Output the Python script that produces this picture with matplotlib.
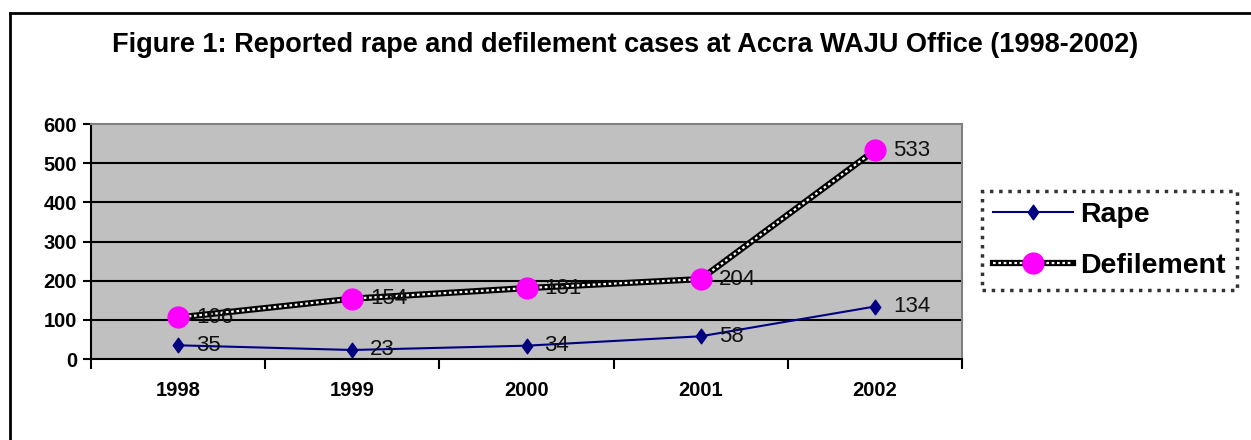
import matplotlib
matplotlib.use("Agg")
import matplotlib.pyplot as plt
from matplotlib.lines import Line2D
from matplotlib.legend_handler import HandlerTuple
from matplotlib.path import Path

plt.rcParams['font.family'] = ['Liberation Sans', 'DejaVu Sans']

years = ["1998", "1999", "2000", "2001", "2002"]
rape = [35, 23, 34, 58, 134]
defilement = [106, 154, 181, 204, 533]
title = "Figure 1: Reported rape and defilement cases at Accra WAJU Office (1998-2002)"

diamond = Path([(0, 1), (0.72, 0), (0, -1), (-0.72, 0), (0, 1)],
               [Path.MOVETO, Path.LINETO, Path.LINETO, Path.LINETO, Path.CLOSEPOLY])

fig = plt.figure(figsize=(12.51, 4.4), dpi=100)
ax = fig.add_axes([91/1251, 1-359/440, (962-91)/1251, (359-124)/440])
ax.set_facecolor('#C0C0C0')
x = list(range(len(years)))

# gridlines
for v in range(100, 600, 100):
    ax.axhline(v, color='black', lw=1.5, zorder=1)

# Rape series
ax.plot(x, rape, color='#000080', lw=1.5, marker=diamond, markersize=10.5,
        markerfacecolor='#000080', markeredgecolor='#000080', zorder=3)
# Defilement series: black with white dashes
ax.plot(x, defilement, color='black', lw=4.5, zorder=3, solid_capstyle='butt')
ax.plot(x, defilement, color='white', lw=1.6, dashes=(1.2, 1.2), zorder=4)
ax.plot(x, defilement, ls='none', marker='o', markersize=15,
        markerfacecolor='#FF00FF', markeredgecolor='#FF00FF', zorder=5)

for xi, v in zip(x, rape):
    ax.annotate(str(v), (xi, v), xytext=(13, 0), textcoords='offset points',
                va='center', ha='left', fontsize=16, color='#111111', zorder=6)
for xi, v in zip(x, defilement):
    ax.annotate(str(v), (xi, v), xytext=(13, 0), textcoords='offset points',
                va='center', ha='left', fontsize=16, color='#111111', zorder=6)

ax.set_xlim(-0.5, len(years) - 0.5)
ax.set_ylim(0, 600)
ax.set_yticks(range(0, 700, 100))
ax.set_yticklabels([str(v) for v in range(0, 700, 100)], fontsize=14.5, fontweight='bold')
ax.tick_params(axis='y', direction='out', length=6, width=1.5, pad=4)

ax.set_xticks([i - 0.5 for i in range(len(years) + 1)])
ax.set_xticklabels([])
ax.set_xticks(x, minor=True)
ax.set_xticklabels(years, minor=True, fontsize=14.5, fontweight='bold')
ax.tick_params(axis='x', which='major', direction='out', length=7, width=1.5)
ax.tick_params(axis='x', which='minor', length=0, pad=16)

ax.spines['left'].set_color('black')
ax.spines['left'].set_linewidth(1.5)
ax.spines['bottom'].set_color('black')
ax.spines['bottom'].set_linewidth(1.5)
ax.spines['top'].set_color('#808080')
ax.spines['top'].set_linewidth(1.5)
ax.spines['right'].set_color('#808080')
ax.spines['right'].set_linewidth(1.5)

fig.text(0.5, 1-45/440, title, ha='center', va='center', fontsize=19.5, fontweight='bold')

# figure border (top and left visible)
fig.add_artist(Line2D([10/1251, 10/1251], [0, 1-13/440], transform=fig.transFigure, color='black', lw=2))
fig.add_artist(Line2D([10/1251, 1], [1-13/440, 1-13/440], transform=fig.transFigure, color='black', lw=2))

# legend
h_rape = Line2D([], [], color='#000080', lw=1.5, marker=diamond, markersize=10.5,
                markerfacecolor='#000080', markeredgecolor='#000080')
h_def_b = Line2D([], [], color='black', lw=4.5)
h_def_w = Line2D([], [], color='white', lw=1.6, dashes=(1.2, 1.2))
h_def_m = Line2D([], [], ls='none', marker='o', markersize=15,
                 markerfacecolor='#FF00FF', markeredgecolor='#FF00FF')
leg = fig.legend([h_rape, (h_def_b, h_def_w, h_def_m)], ['Rape', 'Defilement'],
                 handler_map={tuple: HandlerTuple(ndivide=1)},
                 loc='upper left', bbox_to_anchor=(982/1251, 1-191/440),
                 prop={'weight': 'bold', 'size': 20.5}, frameon=True, fancybox=False,
                 handlelength=2.8, handletextpad=0.25, borderpad=0.4, labelspacing=0.85,
                 borderaxespad=0)
frame = leg.get_frame()
frame.set_edgecolor('black')
frame.set_linestyle(':')
frame.set_linewidth(2.5)
frame.set_facecolor('white')

fig.savefig('out.png', dpi=100)
